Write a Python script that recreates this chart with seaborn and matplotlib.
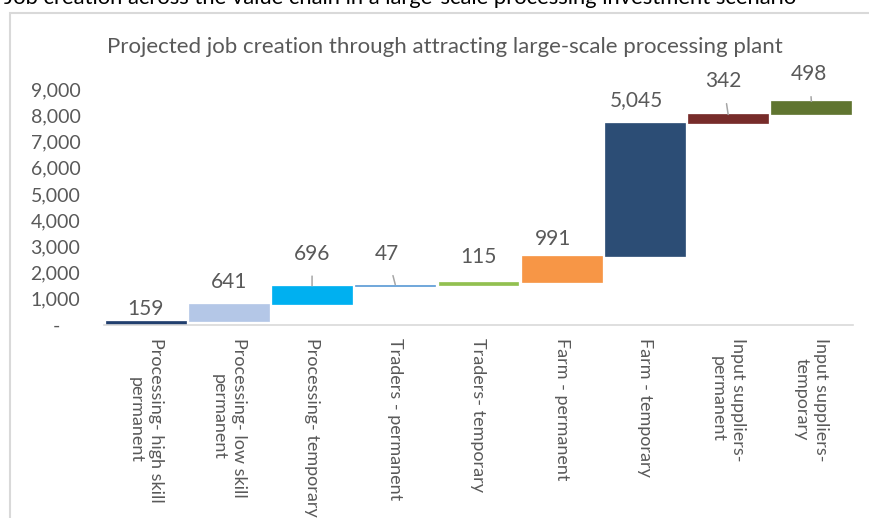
import matplotlib
matplotlib.use("Agg")
import matplotlib.pyplot as plt
import matplotlib.patches as mpatches
import matplotlib.ticker as mticker
import numpy as np
import pandas as pd
import seaborn as sns

# ---- data ----
categories = [
    "Processing- high skill\npermanent",
    "Processing- low skill\npermanent",
    "Processing- temporary",
    "Traders - permanent",
    "Traders- temporary",
    "Farm - permanent",
    "Farm - temporary",
    "Input suppliers-\npermanent",
    "Input suppliers-\ntemporary",
]
jobs = [159, 641, 696, 47, 115, 991, 5045, 342, 498]
value_labels = ["159", "641", "696", "47", "115", "991", "5,045", "342", "498"]
yticks = [0, 1000, 2000, 3000, 4000, 5000, 6000, 7000, 8000, 9000]

# ---- styles ----
colors = ["#213F6E", "#B4C7E7", "#00B0F0", "#5B9BD5", "#92C050",
          "#F79646", "#2C4D75", "#772C2A", "#607530"]
# label offsets in pixels (dx, dy above bar top) and whether a leader line is drawn
label_dx = [0, 0, 0, -8, 0, -9, -9, -5, -2]
label_dy = [12, 22, 32, 31, 25, 17, 23, 33, 27]
leader = [False, False, True, True, False, False, False, True, True]

FONT = "Lato"
TXT = "#595959"

bases = list(np.concatenate([[0], np.cumsum(jobs)[:-1]]))
tops = list(np.cumsum(jobs))

df = pd.DataFrame({"category": categories, "jobs": jobs, "base": bases})

fig = plt.figure(figsize=(8.70, 5.18), dpi=100)
sns.set_style("white")
plt.rcParams["font.family"] = [FONT, "DejaVu Sans"]

ax = fig.add_axes([104 / 870, 1 - 325 / 518, (853 - 104) / 870, (325 - 63) / 518])
sns.barplot(data=df, x="category", y="jobs", bottom=df["base"].to_numpy(),
            errorbar=None, width=0.96, ax=ax, linewidth=0, color="#888888",
            saturation=1)
for p, c in zip(ax.patches, colors):
    p.set_facecolor(c)
    p.set_edgecolor(c)
    p.set_linewidth(0.5)

ax.set_xlim(-0.5, len(categories) - 0.5)
ax.set_ylim(0, 10000)
ax.set_yticks(yticks)
ax.yaxis.set_major_formatter(mticker.FuncFormatter(
    lambda v, pos: "-    " if v == 0 else f"{v:,.0f}"))
ax.set_xlabel("")
ax.set_ylabel("")
ax.tick_params(axis="y", length=0, pad=17, labelsize=14, labelcolor=TXT)
ax.tick_params(axis="x", length=0, pad=9)
ax.set_xticks(range(len(categories)))
ax.set_xticklabels(categories, rotation=270, ha="center", va="top",
                   multialignment="center", fontsize=13, color=TXT,
                   linespacing=1.3)
for s in ["top", "right", "left"]:
    ax.spines[s].set_visible(False)
ax.spines["bottom"].set_color("#D9D9D9")
ax.spines["bottom"].set_linewidth(1.2)

# value labels
px = 72 / 100  # points per pixel
for i, (t, lab) in enumerate(zip(tops, value_labels)):
    xytext = (label_dx[i] * px, label_dy[i] * px)
    if leader[i]:
        ax.annotate(lab, xy=(i, t), xytext=xytext, textcoords="offset points",
                    ha="center", va="center", fontsize=15, color=TXT,
                    arrowprops=dict(arrowstyle="-", color="#A6A6A6", lw=1.1,
                                    shrinkA=6.5, shrinkB=0))
    else:
        ax.annotate(lab, xy=(i, t), xytext=xytext, textcoords="offset points",
                    ha="center", va="center", fontsize=15, color=TXT)

# chart title
fig.text(445 / 870, 1 - 47 / 518,
         "Projected job creation through attracting large-scale processing plant",
         ha="center", va="center", fontsize=16, color=TXT)

# clipped outer heading
fig.text(400 / 870, 1 - 4 / 518,
         "Job creation across the value chain in a large-scale processing investment scenario",
         ha="center", va="baseline", fontsize=15.8, color="#000000")

# chart frame
fig.patches.append(mpatches.Rectangle((10 / 870, -0.05), 1.0, 1 - 13 / 518 + 0.05,
                                      transform=fig.transFigure, fill=False,
                                      edgecolor="#D9D9D9", linewidth=1.5))

fig.savefig("out.png", dpi=100)
